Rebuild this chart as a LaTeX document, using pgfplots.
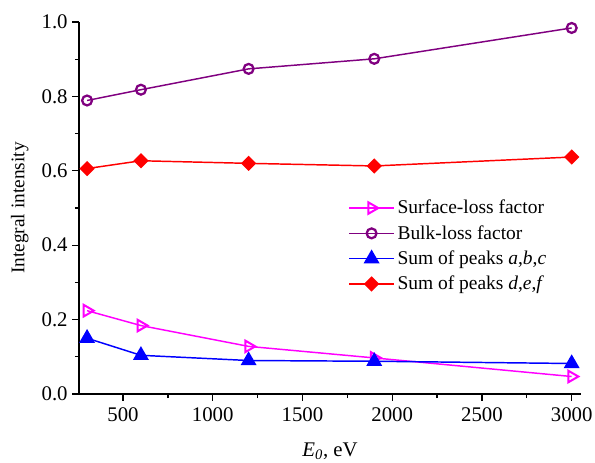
\documentclass[border=0pt]{standalone}
\usepackage{pgfplots}
\pgfplotsset{compat=1.18}
\usepackage{fontspec}
\setmainfont{Liberation Serif}
\definecolor{mymag}{RGB}{255,0,255}
\definecolor{mypur}{RGB}{128,0,128}

\begin{document}
\begin{tikzpicture}
\begin{axis}[
  scale only axis,
  width=376.5pt, height=279pt,
  xmin=255, xmax=3052,
  ymin=0, ymax=1.0,
  axis x line*=bottom, axis y line*=left,
  axis line style={line width=1.1pt},
  tick align=outside,
  xtick={500,1000,...,3000},
  ytick={0,0.2,...,1.0},
  minor x tick num=1, minor y tick num=1,
  major tick length=5pt, minor tick length=3pt,
  tick style={black, line width=1pt},
  /pgf/number format/assume math mode=true,
  yticklabel style={/pgf/number format/fixed, /pgf/number format/fixed zerofill, /pgf/number format/precision=1},
  xticklabel style={/pgf/number format/1000 sep={}, yshift=-2pt},
  ticklabel style={font=\fontsize{15.6}{17}\selectfont},
  xlabel={\textit{E}\textsubscript{\textit{0}}, eV},
  ylabel={Integral intensity},
  xlabel style={font=\fontsize{15.6}{17}\selectfont, yshift=-9pt},
  ylabel style={font=\fontsize{14.5}{16}\selectfont, yshift=3pt},
  legend style={draw=none, fill=none, at={(0.528,0.536)}, anchor=north west,
    font=\fontsize{14.6}{16}\selectfont, row sep=3.2pt},
  legend cell align=left,
  legend image code/.code={\draw[mark repeat=2,mark phase=2] plot coordinates {(0pt,0pt) (16.9pt,0pt) (33.8pt,0pt)};},
]
\addplot[mymag, line width=1.1pt, mark=triangle, mark size=5pt,
  mark options={rotate=-90, line width=1.5pt, fill=white}]
  coordinates {(300,0.224) (600,0.184) (1200,0.128) (1900,0.097) (3000,0.047)};
\addplot[mypur, line width=1.1pt, mark=o, mark size=3.7pt,
  mark options={line width=1.7pt}]
  coordinates {(300,0.789) (600,0.818) (1200,0.874) (1900,0.901) (3000,0.984)};
\addplot[blue, line width=1.1pt, mark=triangle*, mark size=5.8pt]
  coordinates {(300,0.150) (600,0.104) (1200,0.090) (1900,0.088) (3000,0.082)};
\addplot[red, line width=1.1pt, mark=square*, mark size=3.5pt, mark options={rotate=45}]
  coordinates {(300,0.606) (600,0.627) (1200,0.620) (1900,0.613) (3000,0.637)};
\legend{Surface-loss factor, Bulk-loss factor, {Sum of peaks \textit{a},\textit{b},\textit{c}}, {Sum of peaks \textit{d},\textit{e},\textit{f}}}
\coordinate (sw) at (rel axis cs:0,0);
\coordinate (ne) at (rel axis cs:1,1);
\end{axis}
\pgfresetboundingbox
\path[use as bounding box] ([shift={(-59.25pt,-51.75pt)}]sw) rectangle ([shift={(10.5pt,16.5pt)}]ne);
\end{tikzpicture}
\end{document}
